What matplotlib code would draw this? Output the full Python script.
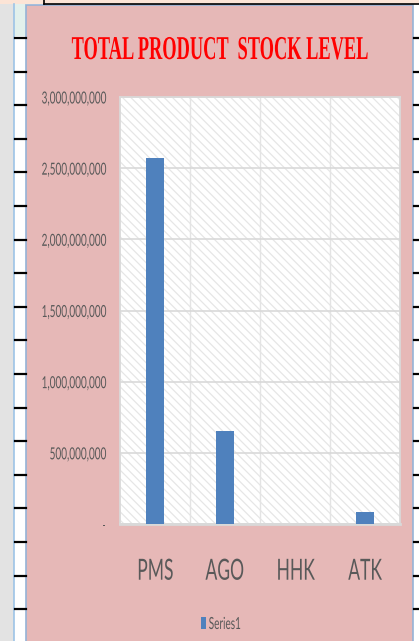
import matplotlib
matplotlib.use('Agg')
import matplotlib.pyplot as plt
from matplotlib.patches import Rectangle
from matplotlib.lines import Line2D
from matplotlib.patheffects import AbstractPathEffect
from matplotlib.transforms import Affine2D

# ---------------- data ----------------
categories = ['PMS', 'AGO', 'HHK', 'ATK']
stock_levels = [2570000000, 650000000, 3000000, 85000000]
ytick_values = [0, 500000000, 1000000000, 1500000000, 2000000000, 2500000000, 3000000000]
ytick_labels = ['-', '500,000,000', '1,000,000,000', '1,500,000,000',
                '2,000,000,000', '2,500,000,000', '3,000,000,000']
series_name = 'Series1'
chart_title = 'TOTAL PRODUCT  STOCK LEVEL'

PINK = '#E6B8B7'
BLUE = '#4F81BD'
GREY_TXT = '#595959'
GRID = '#D9D9D9'


class Stretch(AbstractPathEffect):
    """Draw text glyphs scaled by (sx, sy) about an anchor on the baseline.
    The text itself remains a real matplotlib Text object."""
    def __init__(self, sx=0.6, sy=1.0, anchor='center'):
        super().__init__()
        self.sx = sx
        self.sy = sy
        self.anchor = anchor

    def draw_path(self, renderer, gc, tpath, affine, rgbFace=None):
        ext = tpath.get_extents()
        if self.anchor == 'left':
            cx = ext.x0
        elif self.anchor == 'right':
            cx = ext.x1
        else:
            cx = 0.5 * (ext.x0 + ext.x1)
        pre = Affine2D().translate(-cx, 0).scale(self.sx, self.sy).translate(cx, 0)
        renderer.draw_path(gc, tpath, pre + affine, rgbFace)


W, H = 419, 641
fig = plt.figure(figsize=(W / 100, H / 100), dpi=100)
fig.patch.set_facecolor('white')


def fx(x):
    return x / W


def fy(y):
    return 1 - y / H


def frect(x0, y0, x1, y1, **kw):
    fig.add_artist(Rectangle((fx(x0), fy(y1)), fx(x1) - fx(x0), fy(y0) - fy(y1),
                             transform=fig.transFigure, zorder=-10, **kw))


def fline(xs, ys, **kw):
    fig.add_artist(Line2D([fx(x) for x in xs], [fy(y) for y in ys],
                          transform=fig.transFigure, zorder=-9, **kw))


# ---------------- spreadsheet surroundings ----------------
frect(0, 0, 419, 4, facecolor='#FCE4D6', edgecolor='none')
frect(0, 4, 14, 641, facecolor='#E3E3E3', edgecolor='none')
frect(14, 4, 26, 641, facecolor='white', edgecolor='none')
frect(14, 4, 26, 36, facecolor='#E2F0EC', edgecolor='none')
frect(26, 5, 413, 642, facecolor=PINK, edgecolor='#95B3D7', linewidth=1.2)
fline([44, 44], [0, 4], color='black', lw=1.2)
fline([44, 419], [4, 4], color='black', lw=1.2)
fline([14, 14], [4, 641], color='#9DC3E6', lw=1.2)
for k in range(19):
    yy = 38 + 33.6 * k
    fline([15, 26], [yy, yy], color='black', lw=1.6)
    fline([414, 419], [yy, yy], color='black', lw=1.6)

# ---------------- chart ----------------
plt.rcParams['hatch.linewidth'] = 0.9
ax = fig.add_axes([fx(120), fy(524), fx(400) - fx(120), fy(97) - fy(524)])
ax.set_zorder(1)
ax.set_facecolor('white')
ax.add_patch(Rectangle((0, 0), 1, 1, transform=ax.transAxes, facecolor='white',
                       edgecolor='#E6E6E6', hatch='\\' * 4, linewidth=0, zorder=0.1))

x = list(range(len(categories)))
ax.bar(x, stock_levels, width=0.26, color=BLUE, zorder=3)

ax.set_xlim(-0.5, len(categories) - 0.5)
ax.set_ylim(0, 3000000000)
ax.set_yticks(ytick_values)
ax.set_yticklabels(ytick_labels)
ax.set_xticks(x)
ax.set_xticklabels(categories)
ax.set_xticks([i + 0.5 for i in x[:-1]], minor=True)

ax.set_axisbelow(True)
ax.grid(axis='y', which='major', color=GRID, linewidth=1.2, zorder=1)
ax.grid(axis='x', which='minor', color='#E4E4E4', linewidth=1.0, zorder=1)

for side, sp in ax.spines.items():
    sp.set_color(GRID)
    sp.set_linewidth(1.3)
ax.spines['bottom'].set_linewidth(2.0)

ax.tick_params(axis='both', which='both', length=0)
ax.tick_params(axis='y', labelsize=12, labelcolor=GREY_TXT, pad=10)
ax.tick_params(axis='x', labelsize=21, labelcolor=GREY_TXT, pad=25)

for lab in ax.get_yticklabels():
    lab.set_fontfamily('Lato')
    lab.set_path_effects([Stretch(0.6, 1.0, 'right')])
for lab in ax.get_xticklabels():
    lab.set_fontfamily('Lato')
    lab.set_path_effects([Stretch(0.6, 1.0, 'center')])

# title: natural size fits the figure; glyphs drawn taller and narrower
fig.text(fx(220), fy(59), chart_title, ha='center', va='baseline',
         fontsize=17.5, fontweight='bold', family='Liberation Serif',
         color='#FF0000', path_effects=[Stretch(0.756, 1.37, 'center')])

# legend
handle = Rectangle((0, 0), 1, 1, facecolor=BLUE, edgecolor='none')
leg = fig.legend(handles=[handle], labels=[series_name], loc='center left',
                 bbox_to_anchor=(fx(201), fy(624)), frameon=False,
                 prop={'family': 'Lato', 'size': 12}, handlelength=0.3,
                 handleheight=0.75, handletextpad=0.15, borderpad=0, borderaxespad=0)
for t in leg.get_texts():
    t.set_color(GREY_TXT)
    t.set_path_effects([Stretch(0.6, 1.0, 'left')])

fig.savefig('out.png', dpi=100, facecolor=fig.get_facecolor())
